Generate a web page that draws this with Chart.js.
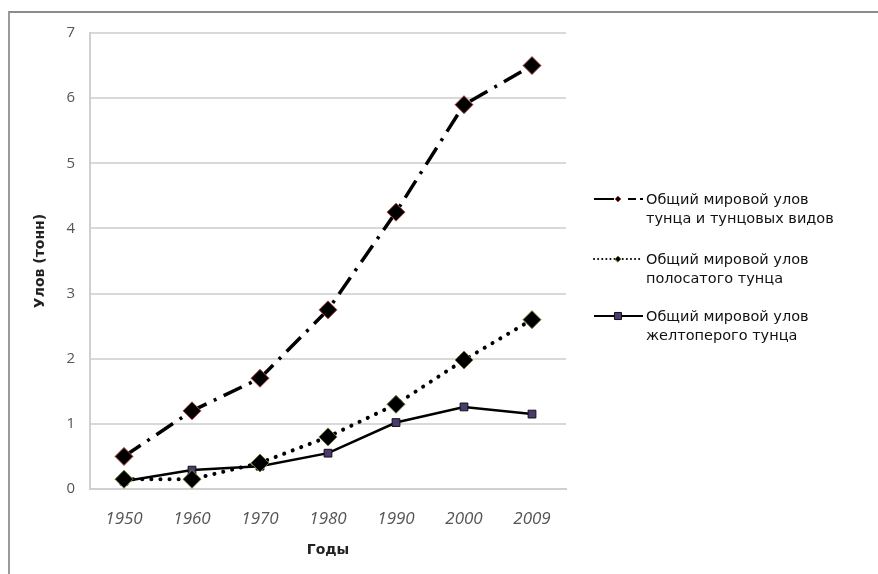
<!DOCTYPE html>
<html>
<head>
<meta charset="utf-8">
<script src="https://cdn.jsdelivr.net/npm/chart.js@4.4.1/dist/chart.umd.min.js"></script>
<style>
  html, body { margin: 0; padding: 0; background: #fff; }
  #wrap { position: relative; width: 878px; height: 574px; }
  #frame { position: absolute; left: 8px; top: 11px; right: 0; bottom: 0;
           border-left: 2px solid #9a9a9a; border-top: 2px solid #8c8c8c; }
  canvas { position: absolute; left: 0; top: 0; }
</style>
</head>
<body>
<div id="wrap">
  <div id="frame"></div>
  <canvas id="catch" width="878" height="574"></canvas>
</div>
<script>
const years = ['1950', '1960', '1970', '1980', '1990', '2000', '2009'];
const totalTuna = [0.5, 1.2, 1.7, 2.75, 4.25, 5.9, 6.5];
const skipjack = [0.15, 0.15, 0.4, 0.8, 1.3, 1.98, 2.6];
const yellowfin = [0.12, 0.29, 0.35, 0.55, 1.02, 1.26, 1.15];
const seriesNames = [
  ['Общий мировой улов', 'тунца и тунцовых видов'],
  ['Общий мировой улов', 'полосатого тунца'],
  ['Общий мировой улов', 'желтоперого тунца']
];

// legend drawn by hand: two-line labels next to a short line sample
const sideLegend = {
  id: 'sideLegend',
  afterDraw(chart) {
    const ctx = chart.ctx;
    const rows = [199, 259, 316];
    chart.data.datasets.forEach((ds, i) => {
      const y = rows[i];
      ctx.save();
      ctx.strokeStyle = '#000';
      ctx.lineWidth = 2;
      ctx.setLineDash(ds.legendDash || []);
      ctx.lineCap = ds.borderCapStyle || 'butt';
      ctx.beginPath();
      ctx.moveTo(594, y);
      ctx.lineTo(643, y);
      ctx.stroke();
      ctx.setLineDash([]);
      ctx.fillStyle = ds.pointBackgroundColor;
      ctx.strokeStyle = ds.pointBorderColor;
      ctx.lineWidth = 1;
      Chart.helpers.drawPoint(ctx, {
        pointStyle: ds.pointStyle, radius: ds.legendRadius, rotation: 0, borderWidth: 1
      }, 618, y);
      ctx.fillStyle = '#111';
      ctx.font = '14.5px "DejaVu Sans"';
      ctx.textBaseline = 'middle';
      ctx.fillText(seriesNames[i][0], 646, y + 1);
      ctx.fillText(seriesNames[i][1], 646, y + 20);
      ctx.restore();
    });
  }
};

new Chart(document.getElementById('catch'), {
  type: 'line',
  data: {
    labels: years,
    datasets: [
      {
        data: totalTuna,
        borderColor: '#000',
        borderWidth: 3.5,
        borderDash: [20, 8, 3, 8],
        legendDash: [20, 14, 8, 4],
        pointStyle: 'rectRot',
        pointRadius: 9,
        legendRadius: 3,
        pointBackgroundColor: '#000',
        pointBorderColor: '#b04a48',
        pointBorderWidth: 1
      },
      {
        data: skipjack,
        borderColor: '#000',
        borderWidth: 4,
        borderDash: [0.1, 9],
        borderCapStyle: 'round',
        legendDash: [0.1, 4],
        pointStyle: 'rectRot',
        pointRadius: 9,
        legendRadius: 3,
        pointBackgroundColor: '#000',
        pointBorderColor: '#6b7a3a',
        pointBorderWidth: 1
      },
      {
        data: yellowfin,
        borderColor: '#000',
        borderWidth: 2.5,
        pointStyle: 'rect',
        pointRadius: 5.5,
        legendRadius: 5,
        pointBackgroundColor: '#4a3a6e',
        pointBorderColor: '#111',
        pointBorderWidth: 1
      }
    ]
  },
  options: {
    responsive: false,
    animation: false,
    layout: { padding: { left: 28, top: 33, right: 312, bottom: 11 } },
    plugins: {
      legend: { display: false },
      tooltip: { enabled: false }
    },
    scales: {
      x: {
        offset: true,
        grid: { display: false },
        border: { color: '#d0d0d0', width: 2 },
        ticks: {
          color: '#555',
          font: { family: 'Open Sans', size: 17, style: 'italic' },
          padding: 12
        },
        title: {
          display: true,
          text: 'Годы',
          color: '#222',
          font: { family: 'DejaVu Sans', size: 14, weight: 'bold' }
        },
        afterFit(scale) { scale.height = 74; }
      },
      y: {
        min: 0,
        max: 7,
        ticks: {
          stepSize: 1,
          color: '#555',
          font: { family: 'Open Sans', size: 15 },
          padding: 15
        },
        grid: { color: '#d9d9d9', lineWidth: 2, drawTicks: false },
        border: { color: '#d0d0d0', width: 2 },
        title: {
          display: true,
          text: 'Улов (тонн)',
          color: '#222',
          font: { family: 'DejaVu Sans', size: 14, weight: 'bold' }
        },
        afterFit(scale) { scale.width = 62; }
      }
    }
  },
  plugins: [sideLegend]
});
</script>
</body>
</html>
